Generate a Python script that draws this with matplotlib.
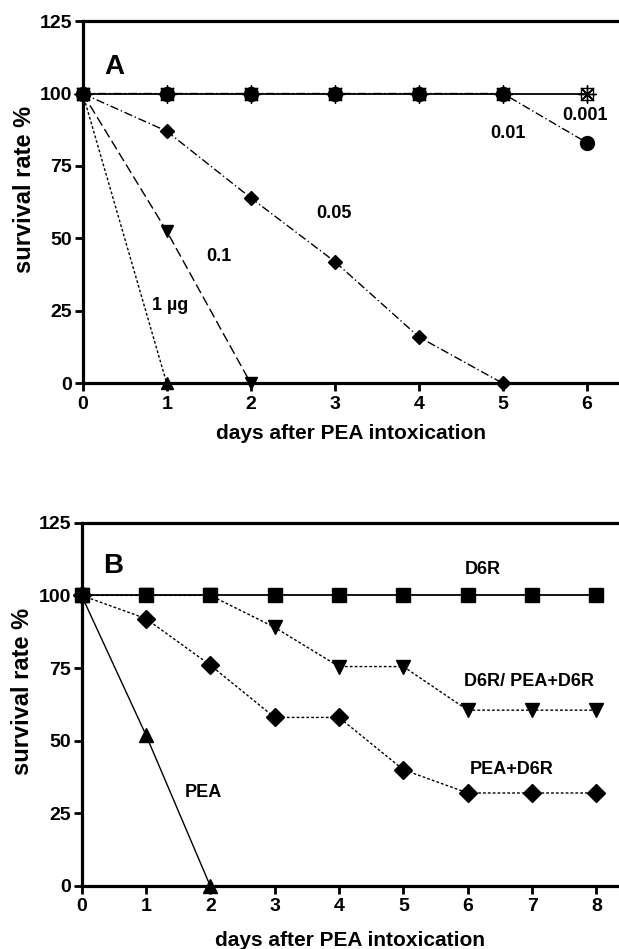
import matplotlib
matplotlib.use("Agg")
import matplotlib.pyplot as plt

plt.rcParams['font.family'] = ['Liberation Sans', 'DejaVu Sans']
plt.rcParams['font.weight'] = 'bold'

# panel A: survival after PEA doses
days_a = [0, 1, 2, 3, 4, 5, 6]
dose_1ug = [100, 0]
dose_01 = [100, 52.5, 0]
dose_005 = [100, 87, 64, 42, 16, 0]
dose_001 = [100, 100, 100, 100, 100, 100, 83]
dose_0001 = [100, 100, 100, 100, 100, 100, 100]

# panel B: D6R treatment
days_b = [0, 1, 2, 3, 4, 5, 6, 7, 8]
d6r = [100, 100, 100, 100, 100, 100, 100, 100, 100]
d6r_pea_d6r = [100, 100, 100, 89, 75.5, 75.5, 60.5, 60.5, 60.5]
pea_d6r = [100, 92, 76, 58, 58, 40, 32, 32, 32]
pea = [100, 52, 0]

yticks = [0, 25, 50, 75, 100, 125]
xlabel = "days after PEA intoxication"
ylabel = "survival rate %"

fig = plt.figure(figsize=(6.19, 9.49), dpi=100)
axA = fig.add_axes([0.1336, 0.596, 1 - 0.1336, 0.3818])
axB = fig.add_axes([0.1317, 0.0664, 1 - 0.1317, 0.3828])


def style_axes(ax, xmax, xticks, xpad):
    ax.set_xlim(0, xmax)
    ax.set_ylim(0, 125)
    ax.set_xticks(xticks)
    ax.set_yticks(yticks)
    ax.spines['right'].set_visible(False)
    for s in ['left', 'top', 'bottom']:
        ax.spines[s].set_linewidth(2.3)
    ax.tick_params(axis='y', direction='out', length=6, width=2, pad=1.5, labelsize=14)
    ax.tick_params(axis='x', direction='out', length=6, width=2, pad=3, labelsize=14)
    for lab in ax.get_xticklabels() + ax.get_yticklabels():
        lab.set_fontweight('bold')
    ax.set_ylabel(ylabel, fontsize=17, fontweight='bold')
    ax.yaxis.set_label_coords(-0.088, 0.535)
    ax.set_xlabel(xlabel, fontsize=15, fontweight='bold', labelpad=xpad)


style_axes(axA, 6.38, days_a, 8)
style_axes(axB, 8.35, days_b, 11)

# --- panel A
axA.plot(days_a[:2], dose_1ug, color='k', lw=1, ls=(0, (2, 1.5)),
         marker='^', ms=9, clip_on=False, zorder=4)
axA.plot(days_a[:3], dose_01, color='k', lw=1, ls=(0, (7, 3)),
         marker='v', ms=9, clip_on=False, zorder=4)
axA.plot(days_a[:6], dose_005, color='k', lw=1, ls=(0, (6, 2, 1, 2)),
         marker='D', ms=7, clip_on=False, zorder=4)
axA.plot(days_a, dose_0001, color='k', lw=1.3, ls='-',
         marker='s', ms=8.5, mfc='none', mew=1, clip_on=False, zorder=3)
axA.plot(days_a, dose_001, color='k', lw=1, ls=(0, (6, 2, 1, 2)),
         marker='o', ms=10, clip_on=False, zorder=4)
axA.plot(days_a, dose_0001, color='k', lw=0, marker=(8, 2, 0), ms=13, mew=1,
         clip_on=False, zorder=5)

axA.text(0.38, 109, "A", fontsize=20, fontweight='bold', ha='center', va='center')
axA.text(1.04, 27, "1 \u00b5g", fontsize=13, fontweight='bold', ha='center', va='center')
axA.text(1.62, 43.7, "0.1", fontsize=13, fontweight='bold', ha='center', va='center')
axA.text(2.99, 58.6, "0.05", fontsize=13, fontweight='bold', ha='center', va='center')
axA.text(5.06, 86.2, "0.01", fontsize=13, fontweight='bold', ha='center', va='center')
axA.text(5.97, 92.5, "0.001", fontsize=13, fontweight='bold', ha='center', va='center')

# --- panel B
axB.plot(days_b, d6r, color='k', lw=1.3, ls='-', marker='s', ms=10,
         clip_on=False, zorder=5)
axB.plot(days_b, d6r_pea_d6r, color='k', lw=1, ls=(0, (2, 1.5)),
         marker='v', ms=10, clip_on=False, zorder=4)
axB.plot(days_b, pea_d6r, color='k', lw=1, ls=(0, (2, 1.5)),
         marker='D', ms=9, clip_on=False, zorder=4)
axB.plot(days_b[:3], pea, color='k', lw=1, ls='-',
         marker='^', ms=10, clip_on=False, zorder=4)

axB.text(0.49, 110, "B", fontsize=20, fontweight='bold', ha='center', va='center')
axB.text(6.23, 109, "D6R", fontsize=13, fontweight='bold', ha='center', va='center')
axB.text(6.95, 70.5, "D6R/ PEA+D6R", fontsize=13, fontweight='bold', ha='center', va='center')
axB.text(6.68, 40.2, "PEA+D6R", fontsize=13, fontweight='bold', ha='center', va='center')
axB.text(1.9, 32.2, "PEA", fontsize=13, fontweight='bold', ha='center', va='center')

fig.savefig("out.png", dpi=100)
